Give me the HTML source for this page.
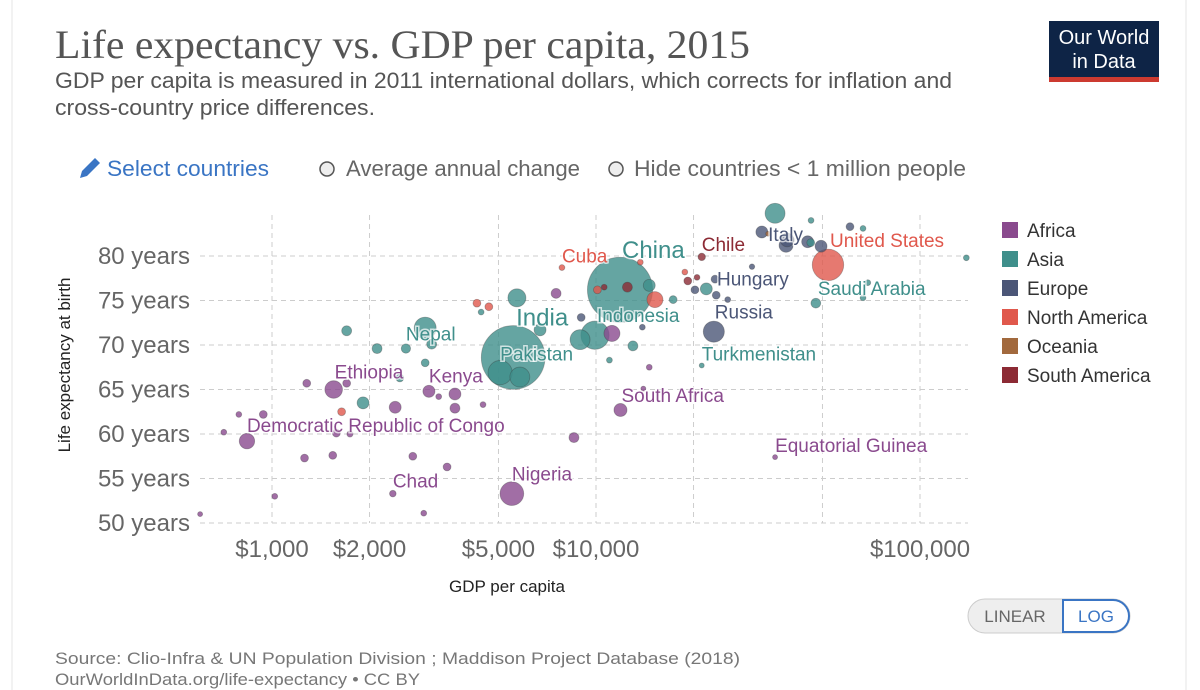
<!DOCTYPE html>
<html><head><meta charset="utf-8"><style>
body{margin:0;background:#fff;width:1200px;height:690px;overflow:hidden;font-family:"Liberation Sans",sans-serif}
svg{display:block}
</style></head><body>
<svg id="chart" width="1200" height="690" xmlns="http://www.w3.org/2000/svg">
<line x1="12" y1="0" x2="12" y2="690" stroke="#e4e4e4"/>
<line x1="1186" y1="0" x2="1186" y2="690" stroke="#e4e4e4"/>
<text x="55" y="58" font-family="Liberation Serif,serif" font-size="40" fill="#555" textLength="695" lengthAdjust="spacingAndGlyphs">Life expectancy vs. GDP per capita, 2015</text>
<text x="55" y="88" font-size="22" fill="#555" textLength="897" lengthAdjust="spacingAndGlyphs">GDP per capita is measured in 2011 international dollars, which corrects for inflation and</text>
<text x="55" y="115" font-size="22" fill="#555" textLength="320" lengthAdjust="spacingAndGlyphs">cross-country price differences.</text>
<g>
<rect x="1049" y="21" width="110" height="57" fill="#0e2446"/>
<rect x="1049" y="77" width="110" height="5" fill="#cc3a30"/>
<text x="1104" y="44" font-size="20" fill="#fff" text-anchor="middle">Our World</text>
<text x="1104" y="68" font-size="20" fill="#fff" text-anchor="middle">in Data</text>
</g>
<g>
<path d="M80 178 L82 171 L95 158 L100 163 L87 176 Z" fill="#3a75c4"/>
<text x="107" y="176" font-size="22" fill="#3a75c4" textLength="162" lengthAdjust="spacingAndGlyphs">Select countries</text>
</g>
<g>
<circle cx="327" cy="169" r="7" fill="#eee" stroke="#555" stroke-width="1.5"/>
<text x="346" y="176" font-size="22" fill="#666" textLength="234" lengthAdjust="spacingAndGlyphs">Average annual change</text>
</g>
<g>
<circle cx="616" cy="169" r="7" fill="#eee" stroke="#555" stroke-width="1.5"/>
<text x="634" y="176" font-size="22" fill="#666" textLength="332" lengthAdjust="spacingAndGlyphs">Hide countries &lt; 1 million people</text>
</g>
<g id="grid"></g><g id="bubbles"></g><g id="labels"></g>
<text transform="translate(70,365) rotate(-90)" text-anchor="middle" font-size="17" fill="#222">Life expectancy at birth</text>
<text x="507" y="592" text-anchor="middle" font-size="17" fill="#222">GDP per capita</text>
<g id="legend"></g>
<g>
<rect x="968" y="599" width="162" height="34" rx="17" fill="#eee" stroke="#ccc"/>
<g><text x="1015" y="622" font-size="17" fill="#666" text-anchor="middle">LINEAR</text></g>
<g><path d="M1063 600 H1113 A16 16 0 0 1 1113 632 H1063 Z" fill="#fff" stroke="#3a75c4" stroke-width="2"/><text x="1096" y="622" font-size="17" fill="#3a75c4" text-anchor="middle">LOG</text></g>
</g>
<text x="55" y="664" font-size="17" fill="#777" textLength="685" lengthAdjust="spacingAndGlyphs">Source: Clio-Infra &amp; UN Population Division ; Maddison Project Database (2018)</text>
<text x="55" y="685" font-size="17" fill="#777" textLength="365" lengthAdjust="spacingAndGlyphs">OurWorldInData.org/life-expectancy • CC BY</text>
</svg>
<script>
const xTicks=[1000,2000,5000,10000,20000,50000,100000];
const xTickLabels=["$1,000","$2,000","$5,000","$10,000","","","$100,000"];
const yTicks=[50,55,60,65,70,75,80];
const yTickLabels=["50 years","55 years","60 years","65 years","70 years","75 years","80 years"];
const continents=["Africa","Asia","Europe","North America","Oceania","South America"];
const continentColors=["#8a4a8e","#3f8f8b","#4b5677","#e0584c","#a2693d","#8c2a34"];
const names=["China","India","Pakistan","Indonesia","Nigeria","Ethiopia","Democratic Republic of Congo","Chad","Kenya","Nepal","South Africa","Equatorial Guinea","Turkmenistan","Russia","Hungary","Chile","Cuba","Italy","United States","Saudi Arabia"];
const gdp=[11860,5550,5060,9930,5500,1550,837,2360,3050,2590,11900,35700,21200,23100,30300,21200,7850,38900,52000,47700];
const life=[76.2,68.6,66.9,71.1,53.3,65.0,59.2,53.3,64.8,69.6,62.7,57.4,67.7,71.5,78.8,79.9,78.7,81.8,79.0,74.7];
const pop=[1370,1310,190,258,182,100,77,14,47,28,55,1.2,5.4,144,9.8,18,11,60,320,31];
const cont=[1,1,1,1,0,0,0,0,0,1,0,0,1,2,2,5,3,2,3,1];
const labelOffsets=[[2,-32,24],[3,-32,24],[0,-12,19],[2,-13,19],[0,-13,19],[1,-11,19],[0,-9,19],[0,-6,19],[0,-9,19],[0,-8,19],[1,-8,19],[0,-5,19],[0,-5,19],[1,-13,19],[-35,19,19],[0,-6,19],[0,-5,19],[-19,1,19],[2,-18,19],[2,-8,19]];
const oGdp=[600,710,790,940,1020,1260,1280,1540,1700,1580,1740,2400,2720,3470,2940,3670,3670,3270,4480,8550,7530,11200,14600,14000,1700,2110,3110,2970,2970,1910,2480,5700,4420,5820,6720,8930,13000,11000,17300,14600,21900,35700,46100,66700,66700,69000,139000,46000,32500,38600,45000,49500,60800,23300,23500,25500,20200,13900,9000,4290,4670,13700,15200,18800,1640,10100,12500,19200,20500,10600,34000];
const oLife=[51.0,60.2,62.2,62.2,53.0,57.3,65.7,57.6,65.7,60.1,60.0,63.0,57.5,56.3,51.1,62.9,64.5,64.2,63.3,59.6,75.8,71.3,67.5,65.1,71.6,69.6,70.1,68.0,71.9,63.5,66.3,75.3,73.7,66.4,71.7,70.6,69.9,68.3,75.1,76.7,76.3,84.8,84.0,83.1,75.3,77.0,79.8,81.5,82.7,81.2,81.6,81.1,83.3,77.4,75.6,75.1,76.2,72.0,73.1,74.7,74.3,79.3,75.1,78.2,62.5,76.2,76.5,77.2,77.6,76.5,82.5];
const oPop=[8,11,11,20,11,20,20,20,20,20,12,46,20,20,11,32,46,11,11,32,32,83,11,6,32,32,32,20,156,46,20,105,11,129,46,129,32,11,20,46,46,129,11,11,11,11,11,20,46,63,46,46,20,20,20,11,20,11,20,20,20,11,83,11,20,20,32,20,11,11,8];
const oCont=[0,0,0,0,0,0,0,0,0,0,0,0,0,0,0,0,0,0,0,0,0,0,0,0,1,1,1,1,1,1,1,1,1,1,1,1,1,1,1,1,1,1,1,1,1,1,1,1,2,2,2,2,2,2,2,2,2,2,2,3,3,3,3,3,3,3,5,5,5,5,4];

const X0=200,X1=968,Y0=215,Y1=523;
function xs(v){return 272+324*Math.log10(v/1000);}
function ys(v){return 256-(v-80)*8.9;}
function rs(p){return Math.max(2.5,Math.sqrt(p)*0.88);}
const NS="http://www.w3.org/2000/svg";
function mk(t,a,parent,txt){const e=document.createElementNS(NS,t);for(const k in a)e.setAttribute(k,a[k]);if(txt!==undefined)e.textContent=txt;parent.appendChild(e);return e;}
const grid=document.getElementById('grid');
xTicks.forEach((t,i)=>{
  const l=mk('line',{x1:xs(t),x2:xs(t),y1:Y0,y2:Y1,stroke:'#ccc','stroke-dasharray':'5,4'},grid);
  
  
  if(xTickLabels[i]){const tx=mk('text',{x:xs(t),y:557,'text-anchor':'middle','font-size':24,fill:'#666'},grid,xTickLabels[i]);
  
  }
});
yTicks.forEach((t,i)=>{
  const l=mk('line',{x1:X0,x2:X1,y1:ys(t),y2:ys(t),stroke:'#ccc','stroke-dasharray':'5,4'},grid);
  
  
  const tx=mk('text',{x:190,y:ys(t)+8,'text-anchor':'end','font-size':24,fill:'#666'},grid,yTickLabels[i]);
  
  
});
const pts=[];
names.forEach((n,i)=>pts.push({n:n,g:gdp[i],l:life[i],p:pop[i],c:cont[i]}));
oGdp.forEach((g,i)=>pts.push({n:null,g:g,l:oLife[i],p:oPop[i],c:oCont[i]}));
pts.sort((a,b)=>b.p-a.p);
const bg=document.getElementById('bubbles');
pts.forEach(d=>{
  const c=mk('circle',{cx:xs(d.g),cy:ys(d.l),r:rs(d.p),fill:continentColors[d.c],'fill-opacity':0.8,stroke:'#333','stroke-opacity':0.35,'stroke-width':0.8},bg);
  
  
});
const lg=document.getElementById('labels');
names.forEach((n,i)=>{
  const o=labelOffsets[i];
  const t=mk('text',{x:xs(gdp[i])+o[0],y:ys(life[i])+o[1],'text-anchor':'start','font-size':o[2],fill:continentColors[cont[i]],stroke:'#fff','stroke-width':3,'paint-order':'stroke','stroke-opacity':0.7},lg,n);
  
  
});
const leg=document.getElementById('legend');
continents.forEach((c,i)=>{
  const y=222+i*29;
  const g=mk('g',{},leg);
  
  
  mk('rect',{x:1002,y:y,width:16,height:16,fill:continentColors[i]},g);
  mk('text',{x:1027,y:y+15,'font-size':19,fill:'#333'},g,c);
});
</script>
</body></html>
